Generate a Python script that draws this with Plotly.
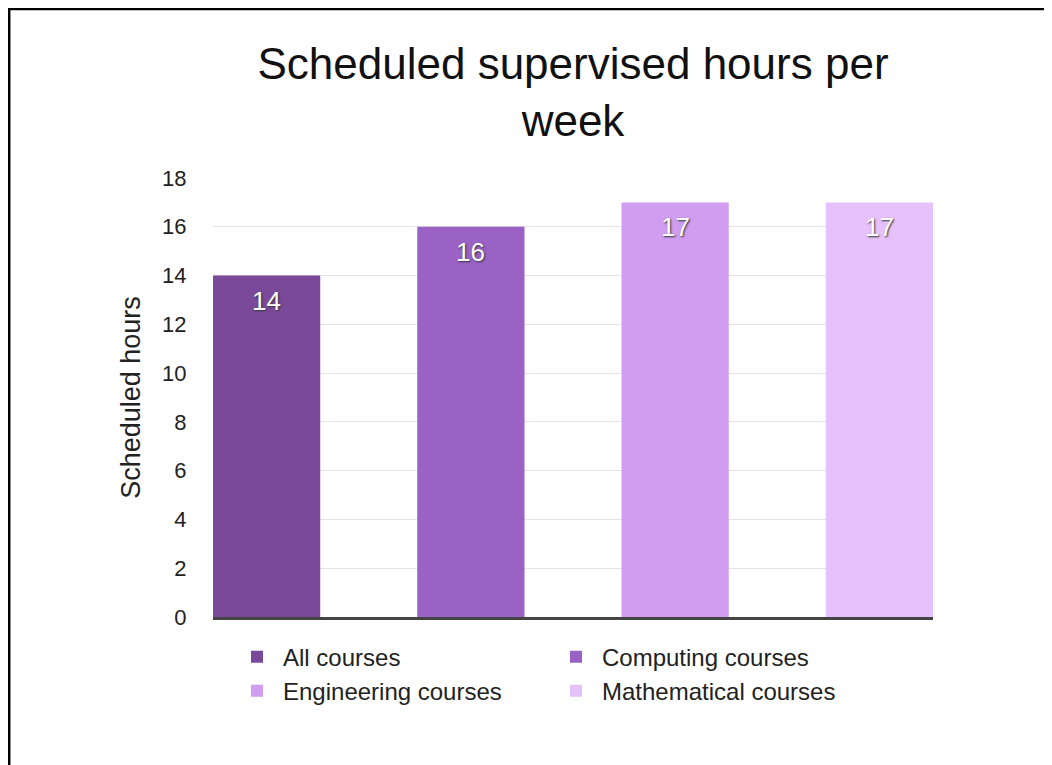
import plotly.graph_objects as go

# ── Data ──────────────────────────────────────────────────────────────────────
courses = ["All courses", "Computing courses", "Engineering courses", "Mathematical courses"]
hours = [14, 16, 17, 17]
y_ticks = [0, 2, 4, 6, 8, 10, 12, 14, 16, 18]

colors = ["#7a4999", "#9a62c5", "#d09df0", "#e6c1fc"]
FONT = "Liberation Sans, Arial, Helvetica, sans-serif"

# figure is drawn 8px in from the page corner (body margin), so size it to fit
W, H = 1044, 757
L, T, PW, PH = 205, 170, 720, 439


def px_x(fx):
    return (fx - L) / PW


def px_y(fy):
    return (T + PH - fy) / PH


fig = go.Figure()
for name, val, col in zip(courses, hours, colors):
    fig.add_trace(go.Bar(
        name=name, x=[name], y=[val], width=0.525,
        marker=dict(color=col, line=dict(width=0)),
    ))

# value labels near the top of each bar
annotations = [
    dict(x=name, y=val, xref="x", yref="y", text=str(val), showarrow=False,
         yanchor="middle", yshift=-25,
         font=dict(size=26, color="white", family=FONT, shadow="1px 1px 2px #333"))
    for name, val in zip(courses, hours)
]

fig.update_layout(
    width=W, height=H,
    barmode="overlay",
    plot_bgcolor="white", paper_bgcolor="white",
    font=dict(family=FONT, color="#222", size=22),
    margin=dict(l=L, r=W - L - PW, t=T, b=H - T - PH, pad=0),
    title=dict(
        text="Scheduled supervised hours per<br>week",
        x=0.5, xref="paper", xanchor="center",
        y=1 - 71 / H, yref="container", yanchor="top",
        font=dict(size=44, color="#111", family=FONT),
    ),
    xaxis=dict(
        range=[-0.2625, 3.2625], showticklabels=False, showgrid=False,
        showline=True, linecolor="#444", linewidth=3, zeroline=False,
    ),
    yaxis=dict(
        range=[0, 18], tickvals=y_ticks, showgrid=True, gridcolor="#e3e3e3",
        gridwidth=1, zeroline=False, showline=False,
        ticks="outside", ticklen=21, tickcolor="rgba(0,0,0,0)",
        tickfont=dict(size=22, color="#222"),
        title=dict(text="Scheduled hours", font=dict(size=27, color="#222"), standoff=13),
    ),
    legend=dict(
        orientation="h", x=px_x(223), xanchor="left",
        y=-0.040, yanchor="top", entrywidth=262, entrywidthmode="pixels",
        itemwidth=42,
        font=dict(size=24, color="#222"), traceorder="normal",
        bgcolor="rgba(0,0,0,0)",
    ),
    showlegend=True,
    annotations=annotations,
    shapes=[
        # frame: top and left edges
        dict(type="line", xref="paper", yref="paper",
             x0=px_x(0), x1=px_x(W + 10), y0=px_y(1), y1=px_y(1),
             line=dict(color="black", width=2.5)),
        dict(type="line", xref="paper", yref="paper",
             x0=px_x(1.2), x1=px_x(1.2), y0=px_y(0), y1=px_y(H + 10),
             line=dict(color="black", width=2.5)),
    ],
)

fig.write_html("out.html")
